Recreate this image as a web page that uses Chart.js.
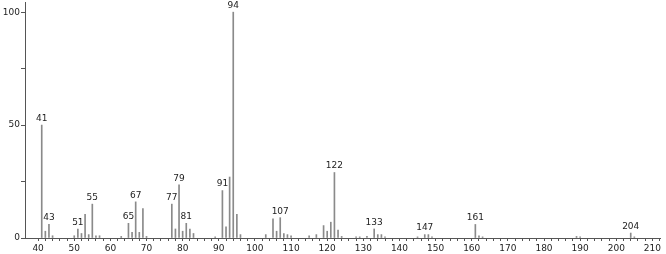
<!DOCTYPE html>
<html>
<head>
<meta charset="utf-8">
<script src="https://cdn.jsdelivr.net/npm/chart.js@4.4.1/dist/chart.umd.min.js"></script>
<style>
html,body{margin:0;padding:0;background:#fff;}
#wrap{width:666px;height:254px;}
</style>
</head>
<body>
<div id="wrap"><canvas id="c" width="666" height="254"></canvas></div>
<script>
const masses = [41,42,43,44,50,51,52,53,54,55,56,57,63,65,66,67,68,69,70,77,78,79,80,81,82,83,89,91,92,93,94,95,96,103,105,106,107,108,109,110,115,117,119,120,121,122,123,124,128,129,131,133,134,135,136,145,147,148,149,161,162,163,189,190,204,205];
const intensities = [50,3,6,1,1,4,2,10.5,1.5,15,1,1,0.7,6.5,2.5,16,2.5,13,0.7,15,4,23.5,3,6.5,4,2,0.5,21,5,27,100,10.5,1.5,1.5,8.5,3,9,2,1.5,1,1,1.5,5.5,3,7,29,3.5,0.7,0.5,0.5,0.7,4,1.5,1.5,0.5,0.5,1.5,1.5,0.5,6,1,0.5,0.7,0.5,2.2,0.5];
const labelledPeaks = [41,43,51,55,65,67,77,79,81,91,94,107,122,133,147,161,204];
const xTickLabels = [40,50,60,70,80,90,100,110,120,130,140,150,160,170,180,190,200,210];
const yTickLabels = [0,50,100];

const points = masses.map((m,i)=>({x:m,y:intensities[i]}));

const peakLabels = {
  id:'peakLabels',
  afterDatasetsDraw(chart){
    const {ctx, scales:{x,y}} = chart;
    ctx.save();
    ctx.font = '9px "DejaVu Sans"';
    ctx.fillStyle = '#222';
    ctx.textAlign = 'center';
    ctx.textBaseline = 'bottom';
    labelledPeaks.forEach(m=>{
      const i = masses.indexOf(m);
      if(i<0) return;
      ctx.fillText(String(m), x.getPixelForValue(m), y.getPixelForValue(intensities[i]) - 2);
    });
    ctx.restore();
  }
};

new Chart(document.getElementById('c'), {
  type:'bar',
  data:{datasets:[{data:points,backgroundColor:'#8a8a8a',borderWidth:0,barThickness:1}]},
  options:{
    responsive:false,
    animation:false,
    layout:{padding:{left:0,right:6,top:2,bottom:0}},
    plugins:{legend:{display:false},tooltip:{enabled:false}},
    scales:{
      x:{
        type:'linear',min:36.37,max:212.1,offset:false,
        afterFit(s){s.height=16;s.paddingLeft=0;s.paddingRight=0;},
        afterBuildTicks(s){
          const t=[];for(let v=40;v<=212;v+=2)t.push({value:v});s.ticks=t;
        },
        grid:{display:true,offset:false,drawOnChartArea:false,drawTicks:true,tickLength:3,color:'#555'},
        border:{display:true,color:'#555',width:1},
        ticks:{
          autoSkip:false,maxRotation:0,padding:2,color:'#222',
          font:{family:'DejaVu Sans',size:9},
          callback:(v)=> xTickLabels.includes(v)?String(v):''
        }
      },
      y:{
        min:0,max:104.5,
        afterFit(s){s.width=25;s.paddingTop=0;s.paddingBottom=0;},
        afterBuildTicks(s){s.ticks=[0,25,50,75,100].map(v=>({value:v}));},
        grid:{display:true,drawOnChartArea:false,drawTicks:true,tickLength:4,color:'#555'},
        border:{display:true,color:'#555',width:1},
        ticks:{
          padding:1,color:'#222',font:{family:'DejaVu Sans',size:9},
          callback:(v)=> yTickLabels.includes(v)?String(v):''
        }
      }
    }
  },
  plugins:[peakLabels]
});
</script>
</body>
</html>
